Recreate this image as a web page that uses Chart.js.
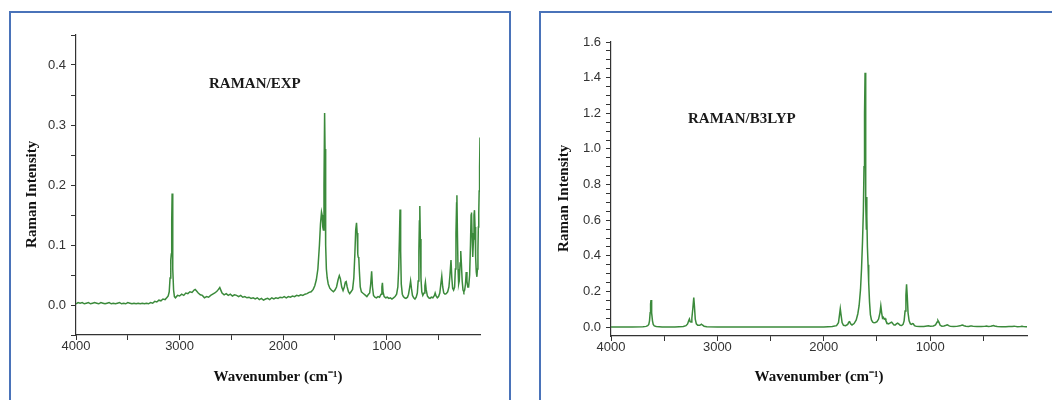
<!DOCTYPE html>
<html>
<head>
<meta charset="utf-8">
<script src="https://cdn.jsdelivr.net/npm/chart.js@4.4.1/dist/chart.umd.min.js"></script>
<style>
  body { margin: 0; width: 1052px; height: 400px; background: #fff; overflow: hidden; position: relative; }
  .panel { position: absolute; border: 2px solid #4a73b9; box-sizing: border-box; }
  canvas { position: absolute; }
  .tag { position: absolute; font: bold 15px "Liberation Serif", "Times New Roman", serif; color: #1a1a1a; white-space: nowrap; line-height: 18px; }
</style>
</head>
<body>
<div class="panel" style="left:9px;top:11px;width:502px;height:420px"></div>
<div class="panel" style="left:539px;top:11px;width:540px;height:420px"></div>
<canvas id="expChart" width="498" height="387" style="left:11px;top:13px"></canvas>
<canvas id="calcChart" width="511" height="387" style="left:541px;top:13px"></canvas>
<div class="tag" style="left:209px;top:74px">RAMAN/EXP</div>
<div class="tag" style="left:688px;top:109px">RAMAN/B3LYP</div>
<script>
const LINE_COLOR = '#3b8a3b';
const AXIS_COLOR = '#333333';
const SANS = '"Liberation Sans", Arial, sans-serif';
const SERIF = '"Liberation Serif", "Times New Roman", serif';

// wavenumber ticks (shared by both panels), labels only on thousands
const xTickValues = [4000, 3500, 3000, 2500, 2000, 1500, 1000, 500];
const expYTicks = [-0.05, 0, 0.05, 0.1, 0.15, 0.2, 0.25, 0.3, 0.35, 0.4, 0.45];
const calcYTicks = [0, 0.05, 0.1, 0.15, 0.2, 0.25, 0.3, 0.35, 0.4, 0.45, 0.5, 0.55, 0.6, 0.65, 0.7, 0.75,
    0.8, 0.85, 0.9, 0.95, 1.0, 1.05, 1.1, 1.15, 1.2, 1.25, 1.3, 1.35, 1.4, 1.45, 1.5, 1.55, 1.6];

const expWave = [4000, 3980, 3960, 3940, 3920, 3900, 3880, 3860, 3840, 3820, 3800, 3780, 3760, 3740, 3720, 3700,
    3680, 3660, 3640, 3620, 3600, 3580, 3560, 3540, 3520, 3500, 3480, 3460, 3440, 3420, 3400, 3380, 3360, 3340,
    3320, 3300, 3280, 3260, 3240, 3220, 3200, 3180, 3160, 3140, 3120, 3110, 3100, 3092, 3085, 3080, 3076, 3072,
    3068, 3064, 3058, 3050, 3040, 3020, 3000, 2980, 2960, 2940, 2920, 2900, 2880, 2860, 2850, 2840, 2820, 2800,
    2780, 2760, 2740, 2720, 2700, 2680, 2660, 2640, 2625, 2612, 2600, 2590, 2570, 2550, 2530, 2510, 2490, 2470,
    2450, 2430, 2410, 2390, 2370, 2350, 2330, 2310, 2290, 2270, 2250, 2230, 2210, 2190, 2170, 2150, 2130, 2110,
    2090, 2070, 2050, 2030, 2010, 1990, 1970, 1950, 1930, 1910, 1890, 1870, 1850, 1830, 1810, 1790, 1770, 1750,
    1730, 1710, 1695, 1680, 1665, 1650, 1640, 1630, 1624, 1618, 1612, 1606, 1600, 1596, 1590, 1583, 1575, 1565,
    1550, 1535, 1515, 1500, 1485, 1470, 1458, 1448, 1435, 1422, 1410, 1400, 1392, 1382, 1370, 1358, 1345, 1330,
    1318, 1308, 1300, 1292, 1286, 1280, 1276, 1270, 1264, 1256, 1245, 1232, 1218, 1205, 1192, 1180, 1165, 1155,
    1146, 1138, 1128, 1115, 1100, 1085, 1070, 1055, 1047, 1042, 1036, 1025, 1010, 995, 980, 965, 950, 935, 920,
    905, 893, 885, 878, 872, 866, 860, 850, 840, 828, 815, 800, 790, 780, 770, 762, 752, 740, 728, 716, 705, 697,
    690, 685, 681, 676, 670, 662, 652, 640, 632, 627, 620, 608, 595, 582, 570, 555, 540, 533, 524, 512, 500, 488,
    478, 469, 460, 450, 438, 426, 412, 400, 390, 380, 372, 364, 355, 345, 338, 332, 326, 323, 318, 312, 306, 300,
    292, 286, 280, 272, 264, 256, 248, 240, 233, 226, 218, 210, 200, 192, 186, 182, 177, 172, 168, 163, 158, 153,
    148, 142, 136, 130, 125, 120, 116, 112, 108, 104, 100];
const expIntensity = [0.002, 0.004, 0.003, 0.004, 0.002, 0.003, 0.004, 0.002, 0.003, 0.004, 0.003, 0.002, 0.004,
    0.003, 0.002, 0.003, 0.004, 0.002, 0.003, 0.002, 0.003, 0.004, 0.002, 0.003, 0.002, 0.004, 0.003, 0.002, 0.003,
    0.002, 0.003, 0.002, 0.003, 0.002, 0.003, 0.002, 0.004, 0.003, 0.006, 0.005, 0.008, 0.007, 0.010, 0.009, 0.013,
    0.015, 0.022, 0.045, 0.075, 0.085, 0.14, 0.186, 0.14, 0.06, 0.025, 0.014, 0.012, 0.016, 0.015, 0.018, 0.016,
    0.020, 0.019, 0.022, 0.021, 0.025, 0.026, 0.024, 0.020, 0.017, 0.016, 0.012, 0.014, 0.013, 0.016, 0.018, 0.020,
    0.023, 0.026, 0.029, 0.024, 0.020, 0.017, 0.019, 0.016, 0.018, 0.015, 0.017, 0.016, 0.014, 0.016, 0.013, 0.014,
    0.012, 0.013, 0.011, 0.012, 0.010, 0.012, 0.009, 0.011, 0.008, 0.010, 0.011, 0.009, 0.012, 0.010, 0.012, 0.011,
    0.013, 0.012, 0.014, 0.012, 0.014, 0.013, 0.015, 0.014, 0.016, 0.015, 0.017, 0.016, 0.018, 0.019, 0.021, 0.022,
    0.026, 0.032, 0.042, 0.060, 0.10, 0.135, 0.155, 0.150, 0.13, 0.125, 0.20, 0.32, 0.26, 0.10, 0.06, 0.045, 0.035,
    0.028, 0.025, 0.022, 0.025, 0.030, 0.042, 0.049, 0.044, 0.030, 0.024, 0.030, 0.038, 0.039, 0.030, 0.022, 0.019,
    0.022, 0.026, 0.045, 0.085, 0.125, 0.137, 0.120, 0.085, 0.080, 0.078, 0.055, 0.030, 0.022, 0.020, 0.018, 0.016,
    0.014, 0.017, 0.020, 0.035, 0.056, 0.030, 0.016, 0.013, 0.012, 0.014, 0.013, 0.018, 0.030, 0.037, 0.022, 0.014,
    0.012, 0.013, 0.011, 0.012, 0.010, 0.012, 0.014, 0.018, 0.030, 0.060, 0.110, 0.159, 0.090, 0.035, 0.018, 0.014,
    0.012, 0.011, 0.013, 0.018, 0.028, 0.040, 0.028, 0.016, 0.012, 0.010, 0.013, 0.020, 0.040, 0.090, 0.140, 0.165,
    0.110, 0.045, 0.022, 0.016, 0.020, 0.032, 0.038, 0.026, 0.015, 0.012, 0.011, 0.013, 0.012, 0.016, 0.020, 0.015,
    0.012, 0.014, 0.020, 0.035, 0.048, 0.030, 0.020, 0.018, 0.019, 0.022, 0.030, 0.050, 0.075, 0.045, 0.028, 0.025,
    0.030, 0.060, 0.120, 0.170, 0.183, 0.120, 0.060, 0.035, 0.040, 0.070, 0.090, 0.070, 0.040, 0.025, 0.022, 0.025,
    0.035, 0.055, 0.040, 0.030, 0.030, 0.050, 0.100, 0.150, 0.154, 0.120, 0.090, 0.080, 0.110, 0.150, 0.158, 0.130,
    0.080, 0.055, 0.047, 0.060, 0.090, 0.130, 0.153, 0.190, 0.230, 0.279];

// B3LYP computed spectrum
const calcWave = [4000, 3800, 3700, 3670, 3655, 3645, 3638, 3632, 3628, 3624, 3620, 3616, 3610, 3603, 3593, 3575,
    3520, 3400, 3320, 3295, 3280, 3270, 3263, 3256, 3248, 3240, 3230, 3222, 3216, 3208, 3198, 3185, 3165, 3150,
    3142, 3125, 3100, 3000, 2800, 2500, 2200, 2000, 1920, 1880, 1862, 1852, 1845, 1838, 1828, 1815, 1795, 1775,
    1765, 1757, 1748, 1735, 1715, 1695, 1680, 1668, 1655, 1645, 1636, 1628, 1622, 1617, 1612, 1608, 1604, 1600,
    1597, 1594, 1590, 1584, 1578, 1570, 1562, 1552, 1540, 1528, 1515, 1500, 1485, 1472, 1464, 1456, 1448, 1440,
    1432, 1424, 1416, 1405, 1395, 1385, 1372, 1362, 1352, 1340, 1328, 1318, 1306, 1296, 1282, 1268, 1255, 1245,
    1236, 1228, 1222, 1216, 1208, 1198, 1186, 1175, 1165, 1158, 1148, 1130, 1100, 1060, 1030, 1016, 1000, 970,
    950, 935, 927, 918, 906, 890, 870, 850, 838, 826, 810, 780, 750, 720, 705, 695, 682, 665, 640, 620, 608, 595,
    560, 520, 490, 470, 455, 430, 412, 404, 395, 370, 330, 290, 260, 230, 210, 200, 180, 150, 138, 125, 100, 90];
const calcIntensity = [0, 0.001, 0.002, 0.004, 0.008, 0.015, 0.035, 0.08, 0.13, 0.152, 0.13, 0.08, 0.035, 0.015,
    0.007, 0.003, 0.001, 0.001, 0.003, 0.008, 0.018, 0.035, 0.045, 0.030, 0.028, 0.050, 0.110, 0.166, 0.120, 0.045,
    0.018, 0.010, 0.010, 0.016, 0.012, 0.005, 0.002, 0.001, 0, 0, 0, 0.001, 0.003, 0.008, 0.025, 0.070, 0.103,
    0.070, 0.025, 0.010, 0.008, 0.015, 0.028, 0.030, 0.018, 0.012, 0.020, 0.040, 0.075, 0.12, 0.21, 0.33, 0.48,
    0.65, 0.90, 1.20, 1.427, 1.10, 0.70, 0.55, 0.73, 0.62, 0.45, 0.35, 0.25, 0.14, 0.07, 0.04, 0.028, 0.024, 0.026,
    0.030, 0.045, 0.080, 0.120, 0.080, 0.050, 0.055, 0.045, 0.048, 0.035, 0.022, 0.018, 0.020, 0.025, 0.028, 0.020,
    0.012, 0.012, 0.018, 0.022, 0.018, 0.010, 0.009, 0.015, 0.035, 0.090, 0.180, 0.240, 0.180, 0.080, 0.035, 0.018,
    0.015, 0.020, 0.018, 0.008, 0.004, 0.003, 0.004, 0.006, 0.007, 0.005, 0.006, 0.012, 0.028, 0.037, 0.028, 0.010,
    0.005, 0.006, 0.010, 0.013, 0.008, 0.004, 0.003, 0.004, 0.007, 0.010, 0.011, 0.008, 0.005, 0.004, 0.006, 0.006,
    0.004, 0.003, 0.003, 0.004, 0.006, 0.004, 0.005, 0.008, 0.009, 0.006, 0.003, 0.002, 0.002, 0.003, 0.004, 0.005,
    0.004, 0.002, 0.003, 0.004, 0.003, 0.002, 0.002];

function buildChart(id, xs, ys, cfg) {
    const ctx = document.getElementById(id).getContext('2d');
    const labelStep = Math.round(cfg.yLabelStep * 100);

    return new Chart(ctx, {
        type: 'scatter',
        data: {
            datasets: [{
                data: xs.map((x, i) => ({ x: x, y: ys[i] })),
                showLine: true,
                borderColor: LINE_COLOR,
                borderWidth: 1.5,
                pointRadius: 0,
                tension: 0
            }]
        },
        options: {
            responsive: false,
            animation: false,
            devicePixelRatio: 1,
            layout: { padding: cfg.padding },
            plugins: {
                legend: { display: false },
                tooltip: { enabled: false }
            },
            scales: {
                x: {
                    type: 'linear',
                    reverse: true,
                    min: cfg.xMin,
                    max: 4000,
                    afterBuildTicks: s => { s.ticks = xTickValues.map(v => ({ value: v })); },
                    afterFit: s => { s.height = cfg.xAxisHeight; },
                    border: { display: true, color: AXIS_COLOR, width: 1.2 },
                    grid: { drawOnChartArea: false, drawTicks: true, tickLength: 5, tickColor: AXIS_COLOR },
                    ticks: {
                        autoSkip: false,
                        maxRotation: 0,
                        padding: -1,
                        color: '#333',
                        font: { family: SANS, size: 13 },
                        callback: v => (v % 1000 === 0 ? String(v) : '')
                    },
                    title: {
                        display: true,
                        text: 'Wavenumber (cm\u207B\u00B9)',
                        color: '#111',
                        font: { family: SERIF, size: 15, weight: 'bold' },
                        padding: { top: 0, bottom: 14 }
                    }
                },
                y: {
                    min: cfg.yMin,
                    max: cfg.yMax,
                    afterBuildTicks: s => { s.ticks = cfg.yTicks.map(v => ({ value: v })); },
                    afterFit: s => { s.width = cfg.yAxisWidth; },
                    border: { display: true, color: AXIS_COLOR, width: 1.2 },
                    grid: { drawOnChartArea: false, drawTicks: true, tickLength: 5, tickColor: AXIS_COLOR },
                    ticks: {
                        autoSkip: false,
                        padding: 5,
                        color: '#333',
                        font: { family: SANS, size: 13 },
                        callback: v => {
                            const k = Math.round(v * 100);
                            return (k >= 0 && k % labelStep === 0) ? (k / 100).toFixed(1) : '';
                        }
                    },
                    title: {
                        display: true,
                        text: 'Raman Intensity     ',
                        color: '#111',
                        font: { family: SERIF, size: 15, weight: 'bold' },
                        padding: { top: cfg.yTitlePad, bottom: 0 }
                    }
                }
            }
        }
    });
}

buildChart('expChart', expWave, expIntensity, {
    xMin: 100, yMin: -0.05, yMax: 0.45, yTicks: expYTicks, yLabelStep: 0.1,
    padding: { left: 0, top: 22, right: 29, bottom: 0 },
    yAxisWidth: 65, xAxisHeight: 65, yTitlePad: 12
});

buildChart('calcChart', calcWave, calcIntensity, {
    xMin: 90, yMin: -0.05, yMax: 1.6, yTicks: calcYTicks, yLabelStep: 0.2,
    padding: { left: 0, top: 29, right: 25, bottom: 0 },
    yAxisWidth: 70, xAxisHeight: 64, yTitlePad: 14
});
</script>
</body>
</html>
